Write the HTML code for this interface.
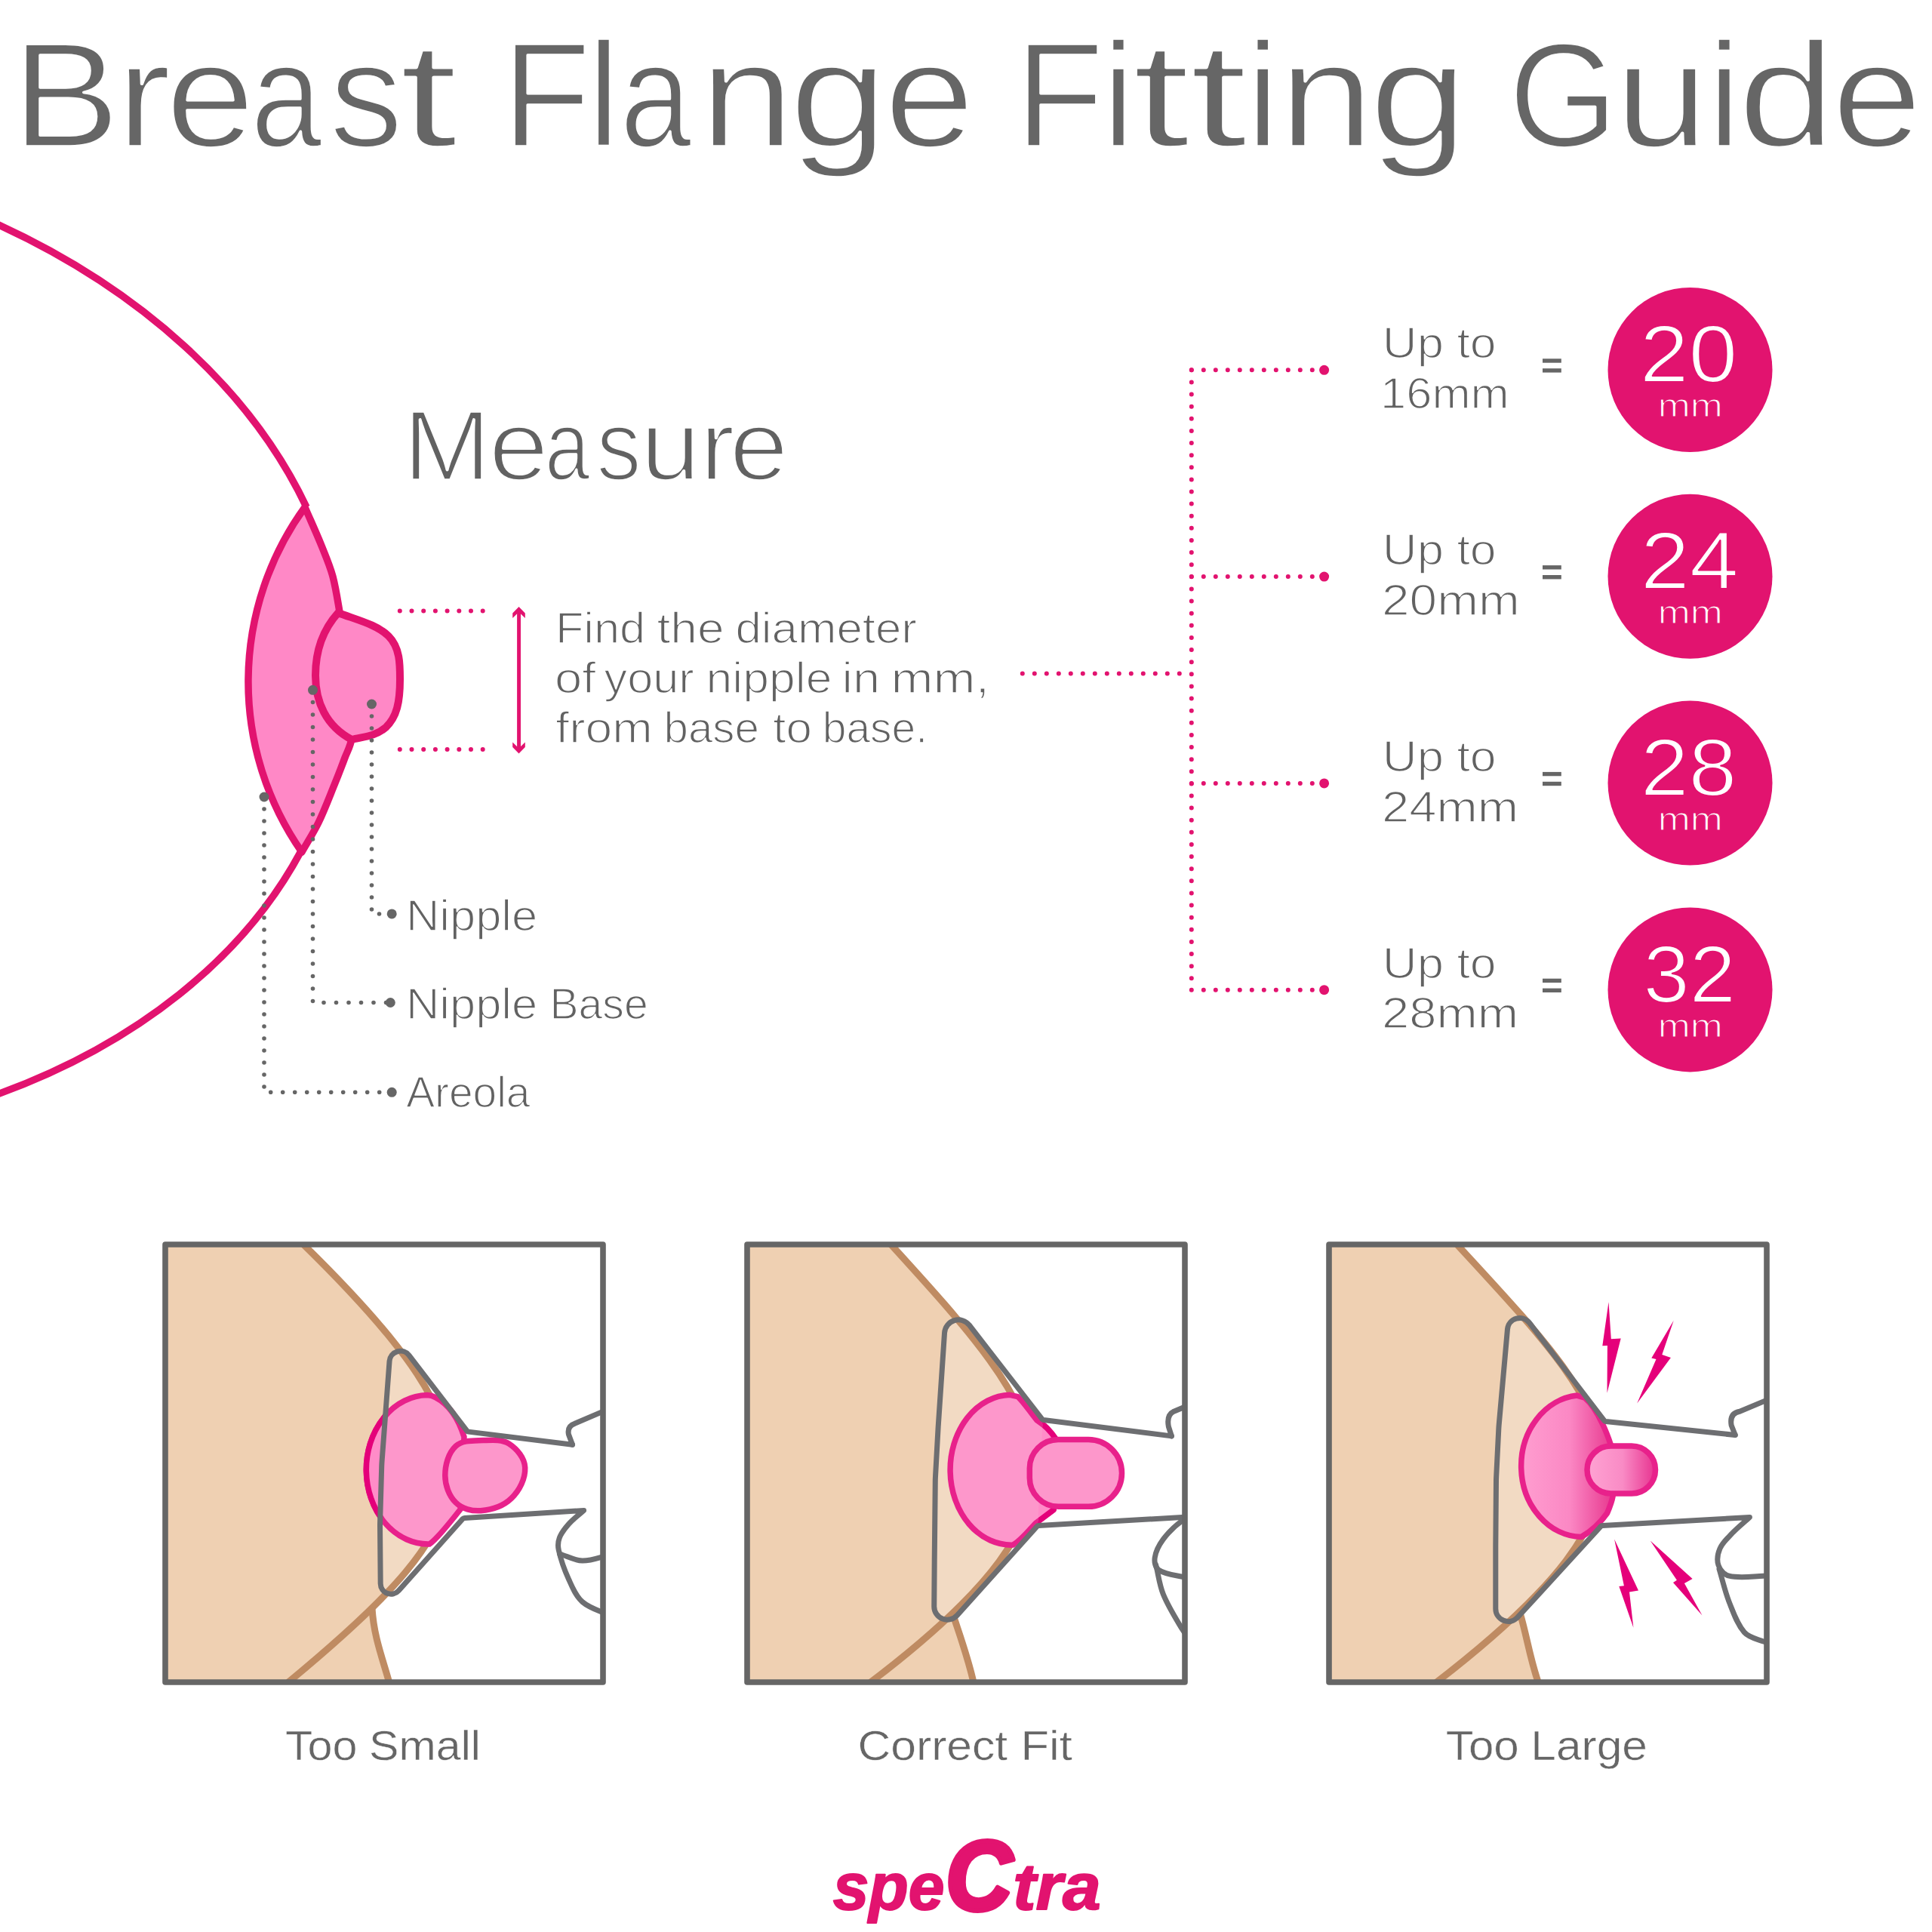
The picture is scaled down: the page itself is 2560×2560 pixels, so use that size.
<!DOCTYPE html>
<html><head><meta charset="utf-8"><style>
html,body{margin:0;padding:0;background:#fff;}
svg{display:block;}
text{font-family:"Liberation Sans",sans-serif;}
</style></head><body>
<svg xmlns="http://www.w3.org/2000/svg" width="2560" height="2560" viewBox="0 0 2560 2560">
<rect width="2560" height="2560" fill="#fff"/>
<text x="15.40" y="193.55" font-size="196.51" textLength="143.49" lengthAdjust="spacingAndGlyphs" fill="#666666" font-weight="normal" font-style="normal" stroke="#fff" stroke-width="3.5" stroke-linejoin="round" >B</text>
<text x="154.45" y="193.55" font-size="196.51" textLength="72.20" lengthAdjust="spacingAndGlyphs" fill="#666666" font-weight="normal" font-style="normal" stroke="#fff" stroke-width="3.5" stroke-linejoin="round" >r</text>
<text x="219.43" y="193.55" font-size="196.51" textLength="118.05" lengthAdjust="spacingAndGlyphs" fill="#666666" font-weight="normal" font-style="normal" stroke="#fff" stroke-width="3.5" stroke-linejoin="round" >e</text>
<text x="332.26" y="193.55" font-size="196.51" textLength="94.19" lengthAdjust="spacingAndGlyphs" fill="#666666" font-weight="normal" font-style="normal" stroke="#fff" stroke-width="3.5" stroke-linejoin="round" >a</text>
<text x="436.75" y="193.55" font-size="196.51" textLength="97.01" lengthAdjust="spacingAndGlyphs" fill="#666666" font-weight="normal" font-style="normal" stroke="#fff" stroke-width="3.5" stroke-linejoin="round" >s</text>
<text x="529.02" y="193.55" font-size="196.51" textLength="77.68" lengthAdjust="spacingAndGlyphs" fill="#666666" font-weight="normal" font-style="normal" stroke="#fff" stroke-width="3.5" stroke-linejoin="round" >t</text>
<text x="665.59" y="193.55" font-size="196.51" textLength="117.35" lengthAdjust="spacingAndGlyphs" fill="#666666" font-weight="normal" font-style="normal" stroke="#fff" stroke-width="3.5" stroke-linejoin="round" >F</text>
<text x="778.14" y="193.55" font-size="196.51" textLength="43.23" lengthAdjust="spacingAndGlyphs" fill="#666666" font-weight="normal" font-style="normal" stroke="#fff" stroke-width="3.5" stroke-linejoin="round" >l</text>
<text x="821.53" y="193.55" font-size="196.51" textLength="94.52" lengthAdjust="spacingAndGlyphs" fill="#666666" font-weight="normal" font-style="normal" stroke="#fff" stroke-width="3.5" stroke-linejoin="round" >a</text>
<text x="927.45" y="193.55" font-size="196.51" textLength="124.77" lengthAdjust="spacingAndGlyphs" fill="#666666" font-weight="normal" font-style="normal" stroke="#fff" stroke-width="3.5" stroke-linejoin="round" >n</text>
<text x="1045.80" y="193.55" font-size="196.51" textLength="130.47" lengthAdjust="spacingAndGlyphs" fill="#666666" font-weight="normal" font-style="normal" stroke="#fff" stroke-width="3.5" stroke-linejoin="round" >g</text>
<text x="1171.72" y="193.55" font-size="196.51" textLength="119.47" lengthAdjust="spacingAndGlyphs" fill="#666666" font-weight="normal" font-style="normal" stroke="#fff" stroke-width="3.5" stroke-linejoin="round" >e</text>
<text x="1345.27" y="193.55" font-size="196.51" textLength="117.48" lengthAdjust="spacingAndGlyphs" fill="#666666" font-weight="normal" font-style="normal" stroke="#fff" stroke-width="3.5" stroke-linejoin="round" >F</text>
<text x="1460.86" y="193.55" font-size="196.51" textLength="42.47" lengthAdjust="spacingAndGlyphs" fill="#666666" font-weight="normal" font-style="normal" stroke="#fff" stroke-width="3.5" stroke-linejoin="round" >i</text>
<text x="1500.38" y="193.55" font-size="196.51" textLength="76.59" lengthAdjust="spacingAndGlyphs" fill="#666666" font-weight="normal" font-style="normal" stroke="#fff" stroke-width="3.5" stroke-linejoin="round" >t</text>
<text x="1576.15" y="193.55" font-size="196.51" textLength="77.03" lengthAdjust="spacingAndGlyphs" fill="#666666" font-weight="normal" font-style="normal" stroke="#fff" stroke-width="3.5" stroke-linejoin="round" >t</text>
<text x="1651.81" y="193.55" font-size="196.51" textLength="42.97" lengthAdjust="spacingAndGlyphs" fill="#666666" font-weight="normal" font-style="normal" stroke="#fff" stroke-width="3.5" stroke-linejoin="round" >i</text>
<text x="1694.84" y="193.55" font-size="196.51" textLength="125.68" lengthAdjust="spacingAndGlyphs" fill="#666666" font-weight="normal" font-style="normal" stroke="#fff" stroke-width="3.5" stroke-linejoin="round" >n</text>
<text x="1814.31" y="193.55" font-size="196.51" textLength="130.35" lengthAdjust="spacingAndGlyphs" fill="#666666" font-weight="normal" font-style="normal" stroke="#fff" stroke-width="3.5" stroke-linejoin="round" >g</text>
<text x="1999.00" y="193.55" font-size="196.51" textLength="144.64" lengthAdjust="spacingAndGlyphs" fill="#666666" font-weight="normal" font-style="normal" stroke="#fff" stroke-width="3.5" stroke-linejoin="round" >G</text>
<text x="2139.69" y="193.55" font-size="196.51" textLength="123.85" lengthAdjust="spacingAndGlyphs" fill="#666666" font-weight="normal" font-style="normal" stroke="#fff" stroke-width="3.5" stroke-linejoin="round" >u</text>
<text x="2262.81" y="193.55" font-size="196.51" textLength="43.98" lengthAdjust="spacingAndGlyphs" fill="#666666" font-weight="normal" font-style="normal" stroke="#fff" stroke-width="3.5" stroke-linejoin="round" >i</text>
<text x="2302.72" y="193.55" font-size="196.51" textLength="128.86" lengthAdjust="spacingAndGlyphs" fill="#666666" font-weight="normal" font-style="normal" stroke="#fff" stroke-width="3.5" stroke-linejoin="round" >d</text>
<text x="2427.54" y="193.55" font-size="196.51" textLength="119.23" lengthAdjust="spacingAndGlyphs" fill="#666666" font-weight="normal" font-style="normal" stroke="#fff" stroke-width="3.5" stroke-linejoin="round" >e</text>
<text x="534.12" y="635.80" font-size="131.69" textLength="116.56" lengthAdjust="spacingAndGlyphs" fill="#626262" font-weight="normal" font-style="normal" stroke="#fff" stroke-width="3.6" stroke-linejoin="round" >M</text>
<text x="647.63" y="635.80" font-size="131.69" textLength="79.53" lengthAdjust="spacingAndGlyphs" fill="#626262" font-weight="normal" font-style="normal" stroke="#fff" stroke-width="3.6" stroke-linejoin="round" >e</text>
<text x="721.83" y="635.80" font-size="131.69" textLength="59.87" lengthAdjust="spacingAndGlyphs" fill="#626262" font-weight="normal" font-style="normal" stroke="#fff" stroke-width="3.6" stroke-linejoin="round" >a</text>
<text x="790.19" y="635.80" font-size="131.69" textLength="59.51" lengthAdjust="spacingAndGlyphs" fill="#626262" font-weight="normal" font-style="normal" stroke="#fff" stroke-width="3.6" stroke-linejoin="round" >s</text>
<text x="848.49" y="635.80" font-size="131.69" textLength="79.73" lengthAdjust="spacingAndGlyphs" fill="#626262" font-weight="normal" font-style="normal" stroke="#fff" stroke-width="3.6" stroke-linejoin="round" >u</text>
<text x="927.41" y="635.80" font-size="131.69" textLength="46.09" lengthAdjust="spacingAndGlyphs" fill="#626262" font-weight="normal" font-style="normal" stroke="#fff" stroke-width="3.6" stroke-linejoin="round" >r</text>
<text x="966.43" y="635.80" font-size="131.69" textLength="78.11" lengthAdjust="spacingAndGlyphs" fill="#626262" font-weight="normal" font-style="normal" stroke="#fff" stroke-width="3.6" stroke-linejoin="round" >e</text>
<text x="735.92" y="852.45" font-size="56.83" textLength="119.17" lengthAdjust="spacingAndGlyphs" fill="#626262" font-weight="normal" font-style="normal" stroke="#fff" stroke-width="1.5" stroke-linejoin="round" >Find</text>
<text x="870.48" y="852.45" font-size="56.83" textLength="89.12" lengthAdjust="spacingAndGlyphs" fill="#626262" font-weight="normal" font-style="normal" stroke="#fff" stroke-width="1.5" stroke-linejoin="round" >the</text>
<text x="974.45" y="852.45" font-size="56.83" textLength="240.52" lengthAdjust="spacingAndGlyphs" fill="#626262" font-weight="normal" font-style="normal" stroke="#fff" stroke-width="1.5" stroke-linejoin="round" >diameter</text>
<text x="735.01" y="918.25" font-size="56.83" textLength="54.34" lengthAdjust="spacingAndGlyphs" fill="#626262" font-weight="normal" font-style="normal" stroke="#fff" stroke-width="1.5" stroke-linejoin="round" >of</text>
<text x="800.50" y="918.25" font-size="56.83" textLength="119.17" lengthAdjust="spacingAndGlyphs" fill="#626262" font-weight="normal" font-style="normal" stroke="#fff" stroke-width="1.5" stroke-linejoin="round" >your</text>
<text x="935.60" y="918.25" font-size="56.83" textLength="166.83" lengthAdjust="spacingAndGlyphs" fill="#626262" font-weight="normal" font-style="normal" stroke="#fff" stroke-width="1.5" stroke-linejoin="round" >nipple</text>
<text x="1115.51" y="918.25" font-size="56.83" textLength="50.44" lengthAdjust="spacingAndGlyphs" fill="#626262" font-weight="normal" font-style="normal" stroke="#fff" stroke-width="1.5" stroke-linejoin="round" >in</text>
<text x="1180.58" y="918.25" font-size="56.83" textLength="130.71" lengthAdjust="spacingAndGlyphs" fill="#626262" font-weight="normal" font-style="normal" stroke="#fff" stroke-width="1.5" stroke-linejoin="round" >mm,</text>
<text x="736.34" y="984.15" font-size="56.83" textLength="128.44" lengthAdjust="spacingAndGlyphs" fill="#626262" font-weight="normal" font-style="normal" stroke="#fff" stroke-width="1.5" stroke-linejoin="round" >from</text>
<text x="879.49" y="984.15" font-size="56.83" textLength="126.45" lengthAdjust="spacingAndGlyphs" fill="#626262" font-weight="normal" font-style="normal" stroke="#fff" stroke-width="1.5" stroke-linejoin="round" >base</text>
<text x="1024.21" y="984.15" font-size="56.83" textLength="51.64" lengthAdjust="spacingAndGlyphs" fill="#626262" font-weight="normal" font-style="normal" stroke="#fff" stroke-width="1.5" stroke-linejoin="round" >to</text>
<text x="1089.78" y="984.15" font-size="56.83" textLength="139.27" lengthAdjust="spacingAndGlyphs" fill="#626262" font-weight="normal" font-style="normal" stroke="#fff" stroke-width="1.5" stroke-linejoin="round" >base.</text>
<text x="538.01" y="1232.85" font-size="58.28" textLength="174.17" lengthAdjust="spacingAndGlyphs" fill="#626262" font-weight="normal" font-style="normal" stroke="#fff" stroke-width="1.5" stroke-linejoin="round" >Nipple</text>
<text x="538.01" y="1349.75" font-size="58.28" textLength="174.17" lengthAdjust="spacingAndGlyphs" fill="#626262" font-weight="normal" font-style="normal" stroke="#fff" stroke-width="1.5" stroke-linejoin="round" >Nipple</text>
<text x="728.46" y="1349.75" font-size="58.28" textLength="130.23" lengthAdjust="spacingAndGlyphs" fill="#626262" font-weight="normal" font-style="normal" stroke="#fff" stroke-width="1.5" stroke-linejoin="round" >Base</text>
<text x="538.14" y="1466.75" font-size="58.28" textLength="164.31" lengthAdjust="spacingAndGlyphs" fill="#626262" font-weight="normal" font-style="normal" stroke="#fff" stroke-width="1.5" stroke-linejoin="round" >Areola</text>
<path d="M-5,296.5 A906.6,659.6 5.73 0 1 406.1,672 M398.2,1129 A906.6,659.6 5.73 0 1 -5,1450.6" fill="none" stroke="#E2136F" stroke-width="9.5"/>
<path d="M404,672 A394,394 0 0 0 400,1129 C407.3,1116.0 415.5,1103.4 422.0,1090.0 C429.9,1073.7 436.2,1056.7 443.0,1040.0 C447.9,1028.1 452.5,1016.1 457.0,1004.0 C460.0,995.9 464.8,988.1 465.6,979.5 C468.1,953.1 469.3,926.4 467.0,900.0 C464.7,873.6 457.0,848.0 452.0,822.0 C448.3,802.7 446.0,783.0 441.0,764.0 C437.3,749.9 431.4,736.5 426.0,723.0 C419.1,705.8 411.3,689.0 404.0,672.0  Z" fill="#FF88C6" stroke="#E2136F" stroke-width="9.5" stroke-linejoin="round"/>
<path d="M448,812 C475,822 500,828 515,843 C530,858 530,880 530,900 C530,930 526,950 511,964 C497,976 482,976 466,980 C432,962 418,930 418,895 C418,860 430,832 448,812 Z" fill="#FF88C6" stroke="#E2136F" stroke-width="10" stroke-linejoin="round"/>
<path d="M492.5,933 L492.5,1211 L519,1211" fill="none" stroke="#666666" stroke-width="5.6" stroke-linecap="round" stroke-dasharray="0 16"/>
<path d="M414.5,914 L414.5,1328.5 L517,1328.5" fill="none" stroke="#666666" stroke-width="5.6" stroke-linecap="round" stroke-dasharray="0 16.5"/>
<path d="M350,1056 L350,1447.3 L519,1447.3" fill="none" stroke="#666666" stroke-width="5.6" stroke-linecap="round" stroke-dasharray="0 16"/>
<circle cx="414.5" cy="914.3" r="6.5" fill="#666666"/>
<circle cx="492.5" cy="933" r="6.5" fill="#666666"/>
<circle cx="350" cy="1056" r="6.5" fill="#666666"/>
<circle cx="519.2" cy="1210.9" r="6.5" fill="#666666"/>
<circle cx="517.3" cy="1328.5" r="6.5" fill="#666666"/>
<circle cx="519.2" cy="1447.3" r="6.5" fill="#666666"/>
<path d="M529.8,809.4 L640,809.4" fill="none" stroke="#E2136F" stroke-width="6" stroke-linecap="round" stroke-dasharray="0 15.7"/>
<path d="M529.8,993 L640,993" fill="none" stroke="#E2136F" stroke-width="6" stroke-linecap="round" stroke-dasharray="0 15.7"/>
<rect x="685.1" y="808" width="4.9" height="186" fill="#E2136F"/>
<path d="M687.5,804.1 L695.8,812.4 L695.8,819 L687.5,811 L679.2,819 L679.2,812.4 Z" fill="#E2136F"/>
<path d="M687.5,998.4 L695.8,990.1 L695.8,983.5 L687.5,991.5 L679.2,983.5 L679.2,990.1 Z" fill="#E2136F"/>
<path d="M1354.8,892.5 L1578.8,892.5" fill="none" stroke="#E2136F" stroke-width="6" stroke-linecap="round" stroke-dasharray="0 16"/>
<path d="M1578.8,490.3 L1578.8,1311.7" fill="none" stroke="#E2136F" stroke-width="6" stroke-linecap="round" stroke-dasharray="0 16.12"/>
<path d="M1578.8,490.3 L1740,490.3" fill="none" stroke="#E2136F" stroke-width="6" stroke-linecap="round" stroke-dasharray="0 16"/>
<circle cx="1754.6" cy="490.3" r="6.5" fill="#E2136F"/>
<circle cx="2239.5" cy="490.0" r="109" fill="#E2136F"/>
<text x="1831.85" y="474.35" font-size="57.70" textLength="81.16" lengthAdjust="spacingAndGlyphs" fill="#626262" font-weight="normal" font-style="normal" stroke="#fff" stroke-width="1.5" stroke-linejoin="round" >Up</text>
<text x="1930.40" y="474.35" font-size="57.70" textLength="52.17" lengthAdjust="spacingAndGlyphs" fill="#626262" font-weight="normal" font-style="normal" stroke="#fff" stroke-width="1.5" stroke-linejoin="round" >to</text>
<text x="1829.07" y="540.95" font-size="57.70" textLength="170.73" lengthAdjust="spacingAndGlyphs" fill="#626262" font-weight="normal" font-style="normal" stroke="#fff" stroke-width="1.5" stroke-linejoin="round" >16mm</text>
<rect x="2044" y="475.3" width="24.8" height="5.4" fill="#666666"/>
<rect x="2044" y="488.2" width="24.8" height="5.4" fill="#666666"/>
<text x="2172.84" y="506.10" font-size="107.85" textLength="129.61" lengthAdjust="spacingAndGlyphs" fill="#FFFFFF" font-weight="normal" font-style="normal" stroke="#E2136F" stroke-width="2.2" stroke-linejoin="round" >20</text>
<text x="2196.77" y="552.20" font-size="43.16" textLength="86.03" lengthAdjust="spacingAndGlyphs" fill="#FFFFFF" font-weight="normal" font-style="normal" stroke="#E2136F" stroke-width="1.2" stroke-linejoin="round" >mm</text>
<path d="M1578.8,764.1 L1740,764.1" fill="none" stroke="#E2136F" stroke-width="6" stroke-linecap="round" stroke-dasharray="0 16"/>
<circle cx="1754.6" cy="764.1" r="6.5" fill="#E2136F"/>
<circle cx="2239.5" cy="763.8" r="109" fill="#E2136F"/>
<text x="1831.85" y="748.15" font-size="57.70" textLength="81.16" lengthAdjust="spacingAndGlyphs" fill="#626262" font-weight="normal" font-style="normal" stroke="#fff" stroke-width="1.5" stroke-linejoin="round" >Up</text>
<text x="1930.40" y="748.15" font-size="57.70" textLength="52.17" lengthAdjust="spacingAndGlyphs" fill="#626262" font-weight="normal" font-style="normal" stroke="#fff" stroke-width="1.5" stroke-linejoin="round" >to</text>
<text x="1831.04" y="814.75" font-size="57.70" textLength="182.64" lengthAdjust="spacingAndGlyphs" fill="#626262" font-weight="normal" font-style="normal" stroke="#fff" stroke-width="1.5" stroke-linejoin="round" >20mm</text>
<rect x="2044" y="749.1" width="24.8" height="5.4" fill="#666666"/>
<rect x="2044" y="762.0" width="24.8" height="5.4" fill="#666666"/>
<text x="2173.72" y="779.90" font-size="107.85" textLength="130.00" lengthAdjust="spacingAndGlyphs" fill="#FFFFFF" font-weight="normal" font-style="normal" stroke="#E2136F" stroke-width="2.2" stroke-linejoin="round" >24</text>
<text x="2196.77" y="826.00" font-size="43.16" textLength="86.03" lengthAdjust="spacingAndGlyphs" fill="#FFFFFF" font-weight="normal" font-style="normal" stroke="#E2136F" stroke-width="1.2" stroke-linejoin="round" >mm</text>
<path d="M1578.8,1037.9 L1740,1037.9" fill="none" stroke="#E2136F" stroke-width="6" stroke-linecap="round" stroke-dasharray="0 16"/>
<circle cx="1754.6" cy="1037.9" r="6.5" fill="#E2136F"/>
<circle cx="2239.5" cy="1037.6" r="109" fill="#E2136F"/>
<text x="1831.85" y="1021.95" font-size="57.70" textLength="81.16" lengthAdjust="spacingAndGlyphs" fill="#626262" font-weight="normal" font-style="normal" stroke="#fff" stroke-width="1.5" stroke-linejoin="round" >Up</text>
<text x="1930.40" y="1021.95" font-size="57.70" textLength="52.17" lengthAdjust="spacingAndGlyphs" fill="#626262" font-weight="normal" font-style="normal" stroke="#fff" stroke-width="1.5" stroke-linejoin="round" >to</text>
<text x="1831.07" y="1088.55" font-size="57.70" textLength="181.07" lengthAdjust="spacingAndGlyphs" fill="#626262" font-weight="normal" font-style="normal" stroke="#fff" stroke-width="1.5" stroke-linejoin="round" >24mm</text>
<rect x="2044" y="1022.9" width="24.8" height="5.4" fill="#666666"/>
<rect x="2044" y="1035.8" width="24.8" height="5.4" fill="#666666"/>
<text x="2173.83" y="1053.70" font-size="107.85" textLength="127.55" lengthAdjust="spacingAndGlyphs" fill="#FFFFFF" font-weight="normal" font-style="normal" stroke="#E2136F" stroke-width="2.2" stroke-linejoin="round" >28</text>
<text x="2196.77" y="1099.80" font-size="43.16" textLength="86.03" lengthAdjust="spacingAndGlyphs" fill="#FFFFFF" font-weight="normal" font-style="normal" stroke="#E2136F" stroke-width="1.2" stroke-linejoin="round" >mm</text>
<path d="M1578.8,1311.7 L1740,1311.7" fill="none" stroke="#E2136F" stroke-width="6" stroke-linecap="round" stroke-dasharray="0 16"/>
<circle cx="1754.6" cy="1311.7" r="6.5" fill="#E2136F"/>
<circle cx="2239.5" cy="1311.4" r="109" fill="#E2136F"/>
<text x="1831.85" y="1295.75" font-size="57.70" textLength="81.16" lengthAdjust="spacingAndGlyphs" fill="#626262" font-weight="normal" font-style="normal" stroke="#fff" stroke-width="1.5" stroke-linejoin="round" >Up</text>
<text x="1930.40" y="1295.75" font-size="57.70" textLength="52.17" lengthAdjust="spacingAndGlyphs" fill="#626262" font-weight="normal" font-style="normal" stroke="#fff" stroke-width="1.5" stroke-linejoin="round" >to</text>
<text x="1831.07" y="1362.35" font-size="57.70" textLength="181.07" lengthAdjust="spacingAndGlyphs" fill="#626262" font-weight="normal" font-style="normal" stroke="#fff" stroke-width="1.5" stroke-linejoin="round" >28mm</text>
<rect x="2044" y="1296.7" width="24.8" height="5.4" fill="#666666"/>
<rect x="2044" y="1309.6" width="24.8" height="5.4" fill="#666666"/>
<text x="2177.51" y="1327.50" font-size="107.85" textLength="122.32" lengthAdjust="spacingAndGlyphs" fill="#FFFFFF" font-weight="normal" font-style="normal" stroke="#E2136F" stroke-width="2.2" stroke-linejoin="round" >32</text>
<text x="2196.77" y="1373.60" font-size="43.16" textLength="86.03" lengthAdjust="spacingAndGlyphs" fill="#FFFFFF" font-weight="normal" font-style="normal" stroke="#E2136F" stroke-width="1.2" stroke-linejoin="round" >mm</text>
<defs>
<clipPath id="pc"><rect x="0" y="0" width="580" height="580"/></clipPath>
<linearGradient id="g1" gradientUnits="userSpaceOnUse" x1="248" x2="376" y1="0" y2="0"><stop offset="0" stop-color="#FFA0D1"/><stop offset="0.55" stop-color="#FB88C4"/><stop offset="1" stop-color="#E8388F"/></linearGradient>
<linearGradient id="g2" gradientUnits="userSpaceOnUse" x1="342" x2="436" y1="0" y2="0"><stop offset="0" stop-color="#FFA3D3"/><stop offset="0.5" stop-color="#F98BC5"/><stop offset="1" stop-color="#E62C8B"/></linearGradient>
</defs>
<g transform="translate(219,1649)"><g clip-path="url(#pc)">
<rect x="0" y="0" width="580" height="580" fill="#fff"/>
<path d="M178.0,-5.0 C461.1,270.8 436.5,355.2 157.0,585.0 L-5,585 L-5,-5 Z" fill="#EFD0B2"/>
<path d="M274.0,482.0 C276.4,520.6 288.0,548.3 298.0,585.0 L-5,585 L-5,482 Z" fill="#EFD0B2"/>
<path d="M400.45,249.10 A3,3 0 0 0 399.83,247.13 L323.02,146.88 A14.5,14.5 0 0 0 297.05,154.61 L287.06,287.54 A150,150 0 0 0 286.70,294.47 L284.58,368.19 A150,150 0 0 0 284.52,373.81 L285.19,449.51 A13.8,13.8 0 0 0 309.28,458.58 L394.39,363.29 A3,3 0 0 0 395.15,361.44 Z" fill="#fff" fill-opacity="0.22"/>
<path d="M178.0,-5.0 C461.1,270.8 436.5,355.2 157.0,585.0" fill="none" stroke="#BF8B62" stroke-width="9"/>
<path d="M274.0,482.0 C276.4,520.6 288.0,548.3 298.0,585.0" fill="none" stroke="#BF8B62" stroke-width="9"/>
<path d="M347,199.6 A82,98.5 0 0 0 350,397 C358,392 380,365 391,351 L396,255 C390,236 380,214 358,202.6 C354,200.5 350,199.8 347,199.6 Z" fill="#FD97CB" stroke="#E8218B" stroke-width="7.5" stroke-linejoin="round"/>
<clipPath id="oc219"><path clip-rule="evenodd" d="M-10,-10 L600,-10 L600,600 L-10,600 Z M400.45,249.10 A3,3 0 0 0 399.83,247.13 L323.02,146.88 A14.5,14.5 0 0 0 297.05,154.61 L287.06,287.54 A150,150 0 0 0 286.70,294.47 L284.58,368.19 A150,150 0 0 0 284.52,373.81 L285.19,449.51 A13.8,13.8 0 0 0 309.28,458.58 L394.39,363.29 A3,3 0 0 0 395.15,361.44 Z"/></clipPath>
<path clip-path="url(#oc219)" d="M347,199.6 A82,98.5 0 0 0 350,397 C358,392 380,365 391,351 L396,255 C390,236 380,214 358,202.6 C354,200.5 350,199.8 347,199.6 Z" fill="#FF8CC8" stroke="#E4007A" stroke-width="7.5" stroke-linejoin="round"/>
<path d="M370.8,306.1 C370.8,292.3 374.9,276.5 385.1,267.1 C394.1,258.8 408.9,260.1 421.1,259.6 C432.7,259.1 445.9,257.8 455.6,264.1 C466.2,271.0 476.2,283.0 476.7,295.6 C477.3,310.4 469.3,325.9 458.7,336.2 C448.2,346.4 432.7,351.5 418.1,352.7 C406.6,353.6 393.3,350.3 385.1,342.2 C375.9,333.1 370.8,319.0 370.8,306.1 Z" fill="#FD97CB" stroke="#E8218B" stroke-width="7.5" stroke-linejoin="round"/>
<path d="M539.50,265.20 L401.75,248.15 A3,3 0 0 1 399.74,247.00 L323.02,146.88 A14.5,14.5 0 0 0 297.05,154.61 L287.06,287.54 A150,150 0 0 0 286.70,294.47 L284.58,368.19 A150,150 0 0 0 284.52,373.81 L285.19,449.51 A13.8,13.8 0 0 0 309.28,458.58 L394.28,363.42 A3,3 0 0 1 396.33,362.42 L554.60,352.40  C547.9,358.5 540.4,363.8 534.4,370.6 C529.6,376.0 524.9,381.9 522.3,388.7 C520.4,393.8 520.1,399.7 521.3,405.0 C524.2,418.1 528.8,431.0 534.4,443.2 C539.3,453.9 543.7,465.7 552.6,473.5 C563.1,482.7 577.5,485.8 590.0,492.0 " fill="none" stroke="#6D6E71" stroke-width="7" stroke-linejoin="round" stroke-linecap="round"/>
<path d="M522.5,410.0 C532.5,413.0 542.1,418.8 552.6,419.0 C565.3,419.2 577.5,413.7 590.0,411.0 " fill="none" stroke="#6D6E71" stroke-width="7" stroke-linejoin="round" stroke-linecap="round"/>
<path d="M539.5,265.2 L534.4,251.5 Q532.5,240.5 542.5,237.3 L590,217" fill="none" stroke="#6D6E71" stroke-width="7" stroke-linejoin="round" stroke-linecap="round"/>
</g>
<rect x="0" y="0" width="580" height="580" fill="none" stroke="#666666" stroke-width="7.6" stroke-linejoin="round"/>
</g>
<g transform="translate(990,1649)"><g clip-path="url(#pc)">
<rect x="0" y="0" width="580" height="580" fill="#fff"/>
<path d="M186.0,-5.0 C405.2,235.6 492.9,331.9 157.0,585.0 L-5,585 L-5,-5 Z" fill="#EFD0B2"/>
<path d="M272.0,488.0 C282.5,520.1 294.3,551.8 301.0,585.0 L-5,585 L-5,488 Z" fill="#EFD0B2"/>
<path d="M391.55,233.50 A3,3 0 0 0 390.92,231.53 L294.45,106.98 A18.4,18.4 0 0 0 261.55,117.01 L253.26,240.13 A150,150 0 0 0 253.15,241.87 L249.49,307.59 A150,150 0 0 0 249.27,314.42 L248.20,419.81 A150,150 0 0 0 248.20,420.19 L247.75,479.53 A17.5,17.5 0 0 0 278.26,491.36 L384.38,373.30 A3,3 0 0 0 385.15,371.43 Z" fill="#fff" fill-opacity="0.22"/>
<path d="M186.0,-5.0 C405.2,235.6 492.9,331.9 157.0,585.0" fill="none" stroke="#BF8B62" stroke-width="9"/>
<path d="M272.0,488.0 C282.5,520.1 294.3,551.8 301.0,585.0" fill="none" stroke="#BF8B62" stroke-width="9"/>
<path d="M348.1,199.3 A81,99.4 0 0 0 352.1,398.1 C362,393 372,380 382.1,369.5 L406.1,351.5 L409.6,258.6 C404,250 400,246 397.6,243.6 C392,238 388,236 384.1,233.1 C375,222 366,208 358.6,201.6 Z" fill="#FD97CB" stroke="#E8218B" stroke-width="7.5" stroke-linejoin="round"/>
<clipPath id="oc990"><path clip-rule="evenodd" d="M-10,-10 L600,-10 L600,600 L-10,600 Z M391.55,233.50 A3,3 0 0 0 390.92,231.53 L294.45,106.98 A18.4,18.4 0 0 0 261.55,117.01 L253.26,240.13 A150,150 0 0 0 253.15,241.87 L249.49,307.59 A150,150 0 0 0 249.27,314.42 L248.20,419.81 A150,150 0 0 0 248.20,420.19 L247.75,479.53 A17.5,17.5 0 0 0 278.26,491.36 L384.38,373.30 A3,3 0 0 0 385.15,371.43 Z"/></clipPath>
<path clip-path="url(#oc990)" d="M348.1,199.3 A81,99.4 0 0 0 352.1,398.1 C362,393 372,380 382.1,369.5 L406.1,351.5 L409.6,258.6 C404,250 400,246 397.6,243.6 C392,238 388,236 384.1,233.1 C375,222 366,208 358.6,201.6 Z" fill="#FF8CC8" stroke="#E4007A" stroke-width="7.5" stroke-linejoin="round"/>
<path d="M412.3,258.5 L452.1,258.5 A44.4,44.4 0 0 1 496.5,302.9 L496.5,302.90000000000003 A44.4,44.4 0 0 1 452.1,347.3 L412.3,347.3 A38,38 0 0 1 374.3,309.3 L374.3,296.5 A38,38 0 0 1 412.3,258.5 Z" fill="#FD97CB" stroke="#E8218B" stroke-width="7.5" stroke-linejoin="round"/>
<path d="M562.40,253.90 L392.83,232.56 A3,3 0 0 1 390.84,231.42 L294.45,106.98 A18.4,18.4 0 0 0 261.55,117.01 L253.26,240.13 A150,150 0 0 0 253.15,241.87 L249.49,307.59 A150,150 0 0 0 249.27,314.42 L248.20,419.81 A150,150 0 0 0 248.20,420.19 L247.75,479.53 A17.5,17.5 0 0 0 278.26,491.36 L384.27,373.42 A3,3 0 0 1 386.33,372.43 L590.00,360.70  M590.0,363.0 C585.5,364.0 580.2,363.3 576.5,366.0 C566.9,372.8 558.3,381.2 551.3,390.7 C546.0,397.9 541.5,406.2 540.2,415.0 C539.4,420.6 540.6,427.9 545.2,431.1 C554.1,437.3 565.8,438.1 576.5,440.2 C580.9,441.1 585.5,440.1 590.0,440.0 " fill="none" stroke="#6D6E71" stroke-width="7" stroke-linejoin="round" stroke-linecap="round"/>
<path d="M541.5,424.0 C544.8,437.1 546.2,450.9 551.3,463.4 C557.9,479.7 567.5,494.7 576.5,509.8 C580.4,516.3 585.5,521.9 590.0,528.0 " fill="none" stroke="#6D6E71" stroke-width="7" stroke-linejoin="round" stroke-linecap="round"/>
<path d="M562.4,253.9 L558.4,241.4 Q555.5,226 565.4,221.2 L590,211" fill="none" stroke="#6D6E71" stroke-width="7" stroke-linejoin="round" stroke-linecap="round"/>
</g>
<rect x="0" y="0" width="580" height="580" fill="none" stroke="#666666" stroke-width="7.6" stroke-linejoin="round"/>
</g>
<g transform="translate(1761,1649)"><g clip-path="url(#pc)">
<rect x="0" y="0" width="580" height="580" fill="#fff"/>
<path d="M165.0,-5.0 C385.3,234.3 481.1,320.5 136.0,585.0 L-5,585 L-5,-5 Z" fill="#EFD0B2"/>
<path d="M253.0,488.0 C262.6,520.1 267.0,553.5 279.0,585.0 L-5,585 L-5,488 Z" fill="#EFD0B2"/>
<path d="M365.47,235.37 A3,3 0 0 0 364.85,233.45 L265.65,103.94 A16.3,16.3 0 0 0 236.48,112.40 L225.26,238.08 A150,150 0 0 0 224.85,243.93 L221.66,307.85 A150,150 0 0 0 221.48,314.16 L220.80,399.41 A150,150 0 0 0 220.80,400.59 L220.80,482.64 A16.8,16.8 0 0 0 250.00,493.98 L360.35,373.32 A3,3 0 0 0 361.14,371.39 Z" fill="#fff" fill-opacity="0.22"/>
<path d="M165.0,-5.0 C385.3,234.3 481.1,320.5 136.0,585.0" fill="none" stroke="#BF8B62" stroke-width="9"/>
<path d="M253.0,488.0 C262.6,520.1 267.0,553.5 279.0,585.0" fill="none" stroke="#BF8B62" stroke-width="9"/>
<path d="M328.6,200.1 A82,94 0 0 0 334.1,387.6 C348,380 360,368 368.6,356 C372,348 375,340 376.1,333.5 L375.5,300 L373.6,266.1 C370,255 366,245 361.6,236.1 C355,222 347,210 339,203.1 Z" fill="url(#g1)" stroke="#E8218B" stroke-width="7.5" stroke-linejoin="round"/>
<path d="M373.5,267 L401.0,267 A31.5,31.5 0 0 1 432.5,298.5 L432.5,298.5 A31.5,31.5 0 0 1 401.0,330 L373.5,330 A31.5,31.5 0 0 1 342,298.5 L342,298.5 A31.5,31.5 0 0 1 373.5,267 Z" fill="url(#g2)" stroke="#E8218B" stroke-width="7.5" stroke-linejoin="round"/>
<path d="M538.20,252.50 L366.78,234.44 A3,3 0 0 1 364.72,233.28 L265.65,103.94 A16.3,16.3 0 0 0 236.48,112.40 L225.26,238.08 A150,150 0 0 0 224.85,243.93 L221.66,307.85 A150,150 0 0 0 221.48,314.16 L220.80,399.41 A150,150 0 0 0 220.80,400.59 L220.80,482.64 A16.8,16.8 0 0 0 250.00,493.98 L360.27,373.40 A3,3 0 0 1 362.32,372.43 L557.40,361.50  C549.7,368.6 541.4,375.1 534.2,382.7 C528.2,389.0 521.4,395.0 518.0,402.9 C515.1,409.7 513.7,418.0 516.0,425.0 C518.1,431.3 523.6,437.7 530.1,439.2 C544.8,442.7 560.4,439.8 575.5,439.2 C580.4,439.0 585.2,437.7 590.0,437.0 " fill="none" stroke="#6D6E71" stroke-width="7" stroke-linejoin="round" stroke-linecap="round"/>
<path d="M517.0,430.0 C521.4,444.5 524.5,459.4 530.1,473.5 C535.7,487.5 540.5,502.5 550.3,513.9 C556.4,520.9 566.8,522.7 575.5,526.0 C580.1,527.8 585.2,528.0 590.0,529.0 " fill="none" stroke="#6D6E71" stroke-width="7" stroke-linejoin="round" stroke-linecap="round"/>
<path d="M538.2,252.5 L533.1,239.4 Q530.5,223.5 544.2,221.2 L590,202" fill="none" stroke="#6D6E71" stroke-width="7" stroke-linejoin="round" stroke-linecap="round"/>
<polygon points="370.5,76.3 373.8,125.2 386.7,124.4 368.5,196.8 368.9,133.9 362.3,134.3" fill="#E5007A"/>
<polygon points="456.7,100.8 441.3,145.9 452.9,150.0 408.2,210.5 433.5,152.1 427.3,150.4" fill="#E5007A"/>
<polygon points="378.1,390.5 410.0,458.4 398.0,460.5 403.4,507.7 384.3,453.0 390.9,452.2" fill="#E5007A"/>
<polygon points="425.7,392.6 481.6,443.1 470.9,448.9 494.5,491.6 456.0,448.1 460.9,444.8" fill="#E5007A"/>
</g>
<rect x="0" y="0" width="580" height="580" fill="none" stroke="#666666" stroke-width="7.6" stroke-linejoin="round"/>
</g>
<text x="377.90" y="2331.85" font-size="55.23" textLength="95.68" lengthAdjust="spacingAndGlyphs" fill="#666666" font-weight="normal" font-style="normal" stroke="#fff" stroke-width="0.5" stroke-linejoin="round" >Too</text>
<text x="489.06" y="2331.85" font-size="55.23" textLength="147.94" lengthAdjust="spacingAndGlyphs" fill="#666666" font-weight="normal" font-style="normal" stroke="#fff" stroke-width="0.5" stroke-linejoin="round" >Small</text>
<text x="1136.57" y="2331.85" font-size="55.23" textLength="198.62" lengthAdjust="spacingAndGlyphs" fill="#666666" font-weight="normal" font-style="normal" stroke="#fff" stroke-width="0.5" stroke-linejoin="round" >Correct</text>
<text x="1352.40" y="2331.85" font-size="55.23" textLength="68.40" lengthAdjust="spacingAndGlyphs" fill="#666666" font-weight="normal" font-style="normal" stroke="#fff" stroke-width="0.5" stroke-linejoin="round" >Fit</text>
<text x="1915.89" y="2331.85" font-size="55.23" textLength="96.93" lengthAdjust="spacingAndGlyphs" fill="#666666" font-weight="normal" font-style="normal" stroke="#fff" stroke-width="0.5" stroke-linejoin="round" >Too</text>
<text x="2028.29" y="2331.85" font-size="55.23" textLength="154.65" lengthAdjust="spacingAndGlyphs" fill="#666666" font-weight="normal" font-style="normal" stroke="#fff" stroke-width="0.5" stroke-linejoin="round" >Large</text>
<text x="1103.64" y="2530.40" font-size="86.31" textLength="147.75" lengthAdjust="spacingAndGlyphs" fill="#E2136F" font-weight="bold" font-style="italic" stroke="#E2136F" stroke-width="2" stroke-linejoin="round" >spe</text>
<text x="1253.01" y="2530.50" font-size="132.27" textLength="88.55" lengthAdjust="spacingAndGlyphs" fill="#E2136F" font-weight="bold" font-style="italic" stroke="#E2136F" stroke-width="6" stroke-linejoin="round" >C</text>
<text x="1342.17" y="2530.40" font-size="86.31" textLength="116.50" lengthAdjust="spacingAndGlyphs" fill="#E2136F" font-weight="bold" font-style="italic" stroke="#E2136F" stroke-width="2" stroke-linejoin="round" >tra</text>
</svg></body></html>
